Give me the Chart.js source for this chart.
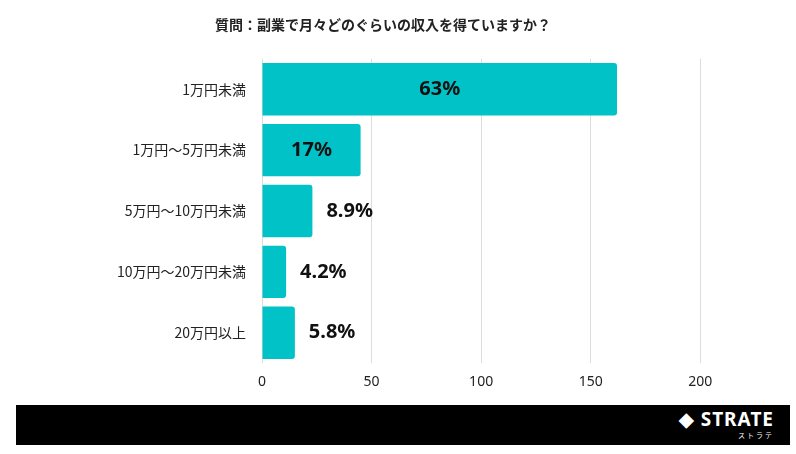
<!DOCTYPE html>
<html><head><meta charset="utf-8">
<script src="https://cdn.jsdelivr.net/npm/chart.js@4"></script>
<style>
body{margin:0;background:#fff;width:796px;height:454px;overflow:hidden;font-family:"Noto Sans CJK JP","Noto Sans",sans-serif}
#wrap{position:absolute;left:0;top:0;width:796px;height:400px}
#foot{position:absolute;left:16px;top:405px;width:774px;height:40px;background:#000;color:#fff}
#logo{position:absolute;right:16px;top:2px;font:bold 19px/24px "Noto Sans",sans-serif;letter-spacing:1px}
#logo small{display:block;text-align:right;font:7px/9px "Noto Sans CJK JP";letter-spacing:2px}
</style></head><body>
<div id="wrap"><canvas id="c" width="796" height="400"></canvas></div>
<div id="foot"><div id="logo">◆ STRATE<small>ストラテ</small></div></div>
<script>
const title = "質問：副業で月々どのぐらいの収入を得ていますか？";
const categories = ["1万円未満","1万円〜5万円未満","5万円〜10万円未満","10万円〜20万円未満","20万円以上"];
const counts = [162,45,23,11,15];
const percentLabels = ["63%","17%","8.9%","4.2%","5.8%"];
const xTicks = [0,50,100,150,200];

const labelPlugin = {
  id:'lbl',
  afterDatasetsDraw(chart){
    const ctx = chart.ctx, meta = chart.getDatasetMeta(0);
    ctx.save();
    ctx.font = 'bold 20px "Noto Sans", sans-serif';
    ctx.fillStyle = '#111';
    ctx.textBaseline = 'middle';
    ctx.textAlign = 'center';
    meta.data.forEach((b,i)=>{
      const w = b.x - b.base;
      const tw = ctx.measureText(percentLabels[i]).width;
      let x = w > tw + 20 ? (b.x + b.base)/2 : b.x + 14 + tw/2;
      ctx.fillText(percentLabels[i], x, b.y);
    });
    ctx.restore();
  }
};

new Chart(document.getElementById('c'),{
  type:'bar',
  data:{labels:categories,datasets:[{data:counts,backgroundColor:'#00c2c7',borderRadius:3,barPercentage:0.86,categoryPercentage:1}]},
  options:{
    indexAxis:'y',responsive:false,animation:false,
    layout:{padding:{left:0,right:30,top:5,bottom:0}},
    plugins:{legend:{display:false},tooltip:{enabled:false},
      title:{display:true,text:title,color:'#222',font:{size:14,weight:'bold',family:'"Noto Sans CJK JP"'},padding:{top:11,bottom:26}}},
    scales:{
      x:{min:0,max:230,
        afterBuildTicks(s){s.ticks = xTicks.map(v=>({value:v}));},
        grid:{color:'#ddd',drawTicks:false},border:{display:false},
        ticks:{color:'#222',font:{size:14,family:'"Noto Sans"'},padding:10}},
      y:{grid:{display:false},border:{display:false},
        afterFit(s){s.width=262;},
        ticks:{color:'#222',font:{size:14,family:'"Noto Sans CJK JP"'},padding:8}}
    }
  },
  plugins:[labelPlugin]
});
</script>
</body></html>
